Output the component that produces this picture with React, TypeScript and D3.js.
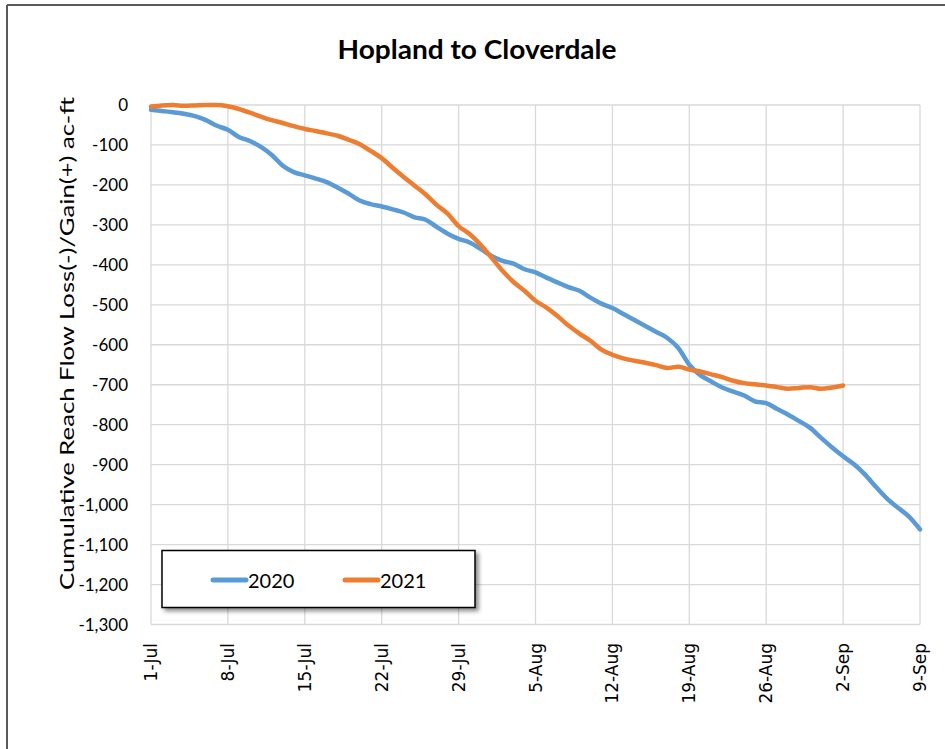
import React from "react";
import * as d3 from "d3";

const title = "Hopland to Cloverdale";
const yTitle = "Cumulative Reach Flow Loss(-)/Gain(+)  ac-ft";
const xTickLabels = ["1-Jul", "8-Jul", "15-Jul", "22-Jul", "29-Jul", "5-Aug", "12-Aug", "19-Aug", "26-Aug", "2-Sep", "9-Sep"];
const yTicks = [0, -100, -200, -300, -400, -500, -600, -700, -800, -900, -1000, -1100, -1200, -1300];
const seriesNames = ["2020", "2021"];
const seriesColors = ["#5B9BD5", "#ED7D31"];

// daily values starting 1-Jul
const values2020 = [
  -12, -15, -18, -22, -28, -38, -52, -62, -80, -90,
  -105, -125, -152, -168, -176, -184, -193, -207, -222, -239,
  -248, -254, -261, -269, -281, -287, -305, -322, -335, -344,
  -360, -378, -390, -397, -411, -419, -432, -444, -456, -465,
  -482, -497, -508, -523, -538, -553, -568, -583, -608, -650,
  -676, -692, -707, -717, -727, -742, -746, -761, -775, -791,
  -808, -833, -857, -879, -899, -925, -956, -985, -1008, -1030,
  -1062,
];
const values2021 = [
  -4, -1, 0, -2, -1, 0, 0, -3, -10, -19,
  -29, -38, -45, -53, -60, -65, -71, -77, -87, -98,
  -115, -133, -157, -180, -202, -224, -250, -272, -303, -323,
  -350, -382, -415, -443, -465, -490, -507, -528, -552, -572,
  -590, -612, -625, -634, -640, -645, -651, -658, -655, -662,
  -667, -674, -681, -690, -696, -699, -702, -706, -710, -708,
  -706, -710, -707, -702,
];

const W = 945;
const H = 749;
const plot = { left: 151, right: 920, top: 105, bottom: 624.5 };

const fmt = d3.format(",");

export default function App() {
  const x = d3.scaleLinear().domain([0, 70]).range([plot.left, plot.right]);
  const y = d3.scaleLinear().domain([-1300, 0]).range([plot.bottom, plot.top]);
  const line = d3
    .line<number>()
    .x((_, i) => x(i))
    .y((d) => y(d))
    .curve(d3.curveMonotoneX);
  const series = [values2020, values2021];
  const xTicks = xTickLabels.map((_, i) => i * 7);

  return (
    <svg
      width={W}
      height={H}
      style={{ position: "absolute", left: 0, top: 0, background: "#fff" }}
    >
      <defs>
        <filter id="shadow" x="-10%" y="-20%" width="130%" height="160%">
          <feDropShadow dx="3" dy="3" stdDeviation="2" floodColor="#000" floodOpacity="0.45" />
        </filter>
      </defs>
      <rect x={0} y={0} width={W} height={H} fill="#fff" />
      {/* outer frame */}
      <line x1={7} y1={5} x2={W} y2={5} stroke="#595959" strokeWidth={2} />
      <line x1={7} y1={5} x2={7} y2={H} stroke="#595959" strokeWidth={2} />

      {/* title */}
      <text
        x={477}
        y={59}
        textAnchor="middle"
        fontFamily="Lato, 'Open Sans', sans-serif"
        fontWeight="bold"
        fontSize={27}
        textLength={279}
        lengthAdjust="spacingAndGlyphs"
        fill="#000"
      >
        {title}
      </text>

      {/* gridlines */}
      {yTicks.map((t) => (
        <line key={"h" + t} x1={plot.left} x2={plot.right} y1={y(t)} y2={y(t)} stroke="#D9D9D9" strokeWidth={1.3} />
      ))}
      {xTicks.map((t) => (
        <line key={"v" + t} x1={x(t)} x2={x(t)} y1={plot.top} y2={plot.bottom} stroke="#D9D9D9" strokeWidth={1.3} />
      ))}

      {/* y tick labels */}
      {yTicks.map((t) => (
        <text
          key={"yl" + t}
          x={128}
          y={y(t)}
          dy="0.36em"
          textAnchor="end"
          fontFamily="Lato, sans-serif"
          fontSize={17}
          fill="#000"
        >
          {t === 0 ? "0" : "-" + fmt(-t)}
        </text>
      ))}

      {/* x tick labels */}
      {xTicks.map((t, i) => (
        <text
          key={"xl" + t}
          transform={`translate(${x(t)},643) rotate(-90)`}
          textAnchor="end"
          dominantBaseline="central"
          fontFamily="'DejaVu Sans', sans-serif"
          fontSize={17}
          fill="#000"
        >
          {xTickLabels[i]}
        </text>
      ))}

      {/* y axis title */}
      <text
        transform={`translate(66,343.5) rotate(-90)`}
        textAnchor="middle"
        dominantBaseline="central"
        fontFamily="Lato, sans-serif"
        fontSize={20}
        textLength={493}
        lengthAdjust="spacingAndGlyphs"
        fill="#000"
      >
        {yTitle}
      </text>

      {/* lines */}
      {series.map((s, i) => (
        <path
          key={"s" + i}
          d={line(s) || ""}
          fill="none"
          stroke={seriesColors[i]}
          strokeWidth={4.5}
          strokeLinejoin="round"
          strokeLinecap="round"
        />
      ))}

      {/* legend */}
      <g>
        <rect x={162} y={550.5} width={313} height={57} fill="#fff" stroke="#000" strokeWidth={1.5} filter="url(#shadow)" />
        {seriesNames.map((n, i) => {
          const lx = i === 0 ? 213 : 345;
          return (
            <g key={"lg" + n}>
              <line x1={lx} x2={lx + 33} y1={580} y2={580} stroke={seriesColors[i]} strokeWidth={5} strokeLinecap="round" />
              <text x={lx + 35} y={587.5} fontFamily="Lato, sans-serif" fontSize={20} fill="#000">
                {n}
              </text>
            </g>
          );
        })}
      </g>
    </svg>
  );
}
